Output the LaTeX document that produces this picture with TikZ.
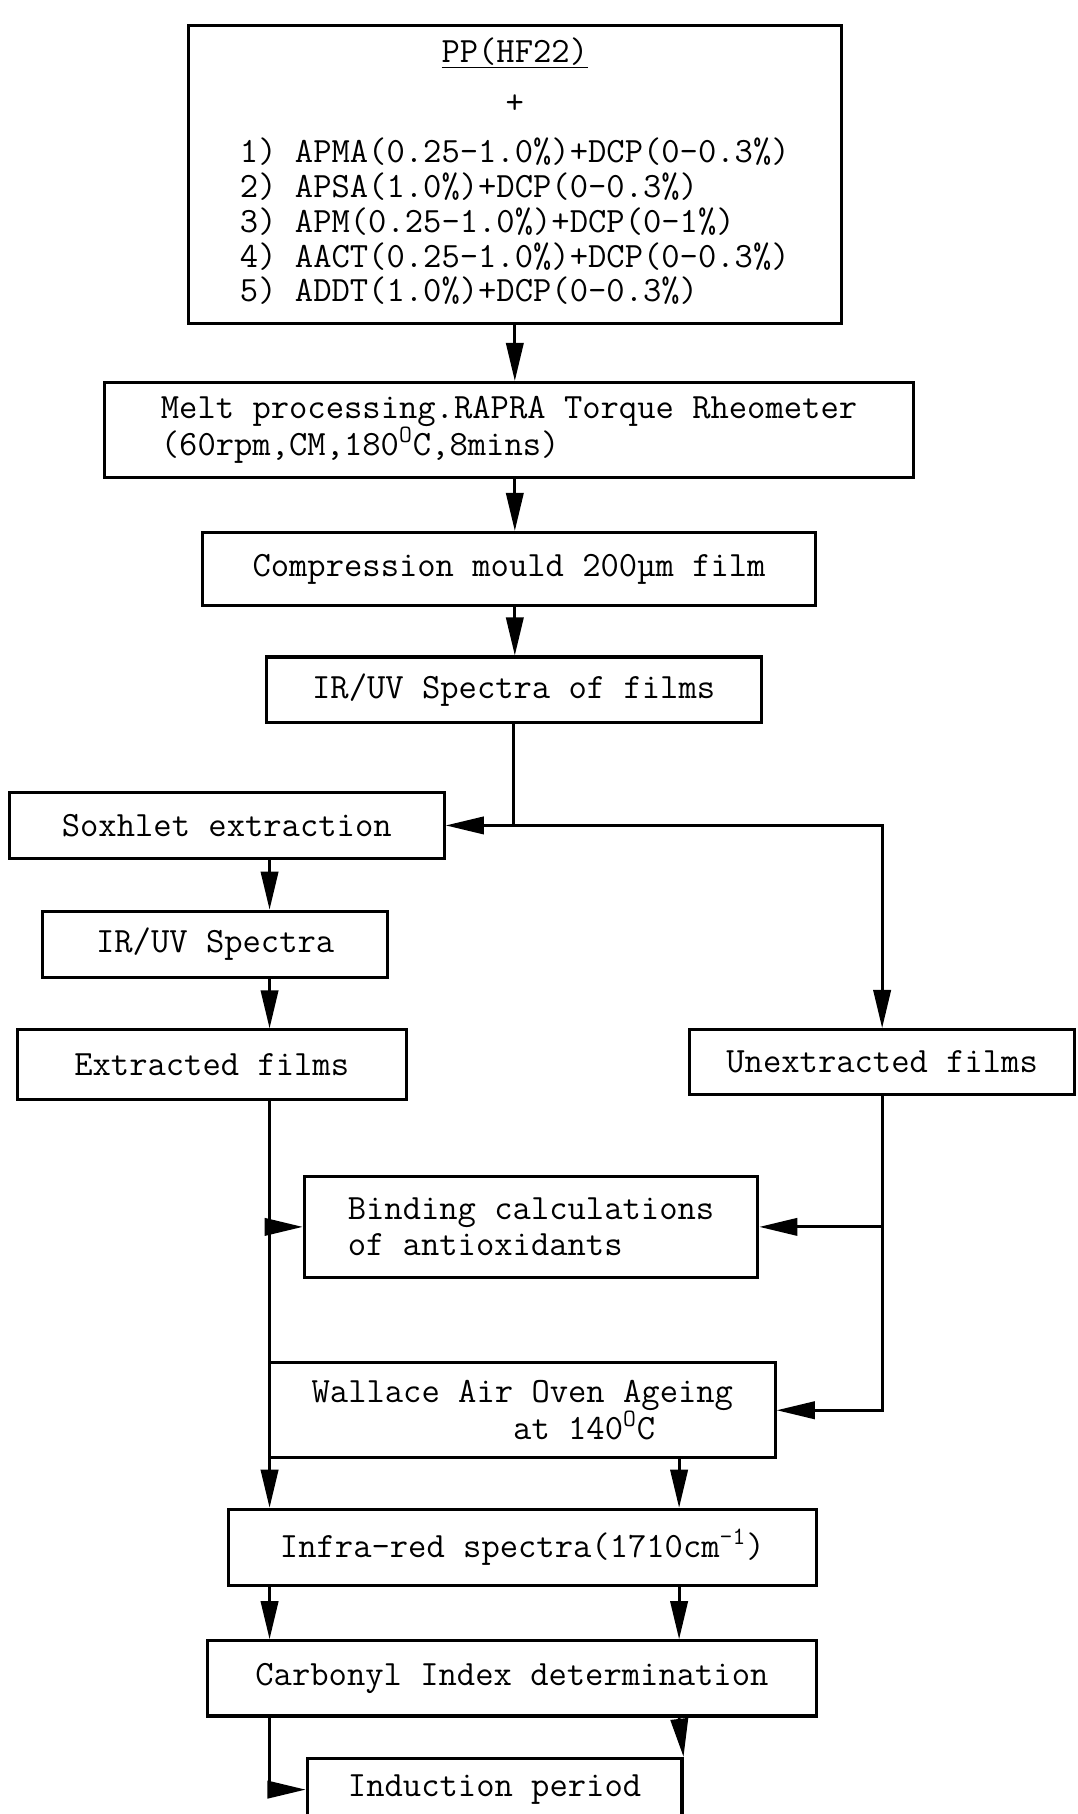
\documentclass[tikz,border=0pt]{standalone}
\usetikzlibrary{positioning,arrows.meta}

\begin{document}
\begin{tikzpicture}[
		box/.style={draw, line width=1.5pt, inner sep=0pt, align=left,
			font=\ttfamily\fontsize{17.5}{18}\selectfont},
		arr/.style={line width=1.4pt, -{Triangle[length=0.66cm,width=0.3cm]}},
	]
		\useasboundingbox (0,0) rectangle (18.62,-31.36);
		
		\coordinate (colA) at (4.66,0);
		\coordinate (colB) at (11.74,0);
		\coordinate (colC) at (15.25,0);
		
		\node [box, minimum width=11.28cm, minimum height=5.16cm] (pp) at (8.9,-3.02) {%
			\fontsize{17.5}{16.5}\selectfont
			\begin{tabular}{@{}l@{}}
				\multicolumn{1}{c}{\underline{PP(HF22)}}\\[9pt]
				\multicolumn{1}{c}{+}\\[7pt]
				1) APMA(0.25-1.0\%)+DCP(0-0.3\%)\\
				2) APSA(1.0\%)+DCP(0-0.3\%)\\
				3) APM(0.25-1.0\%)+DCP(0-1\%)\\
				4) AACT(0.25-1.0\%)+DCP(0-0.3\%)\\
				5) ADDT(1.0\%)+DCP(0-0.3\%)
			\end{tabular}};
		\node [box, minimum width=14cm, minimum height=1.64cm, below=0.96cm of pp, xshift=-0.1cm] (melt)
			{Melt processing.RAPRA Torque Rheometer\\(60rpm,CM,180\textsuperscript{O}C,8mins)};
		\node [box, minimum width=10.6cm, minimum height=1.26cm, below=0.9cm of melt] (mould)
			{Compression mould 200µm film};
		\node [box, minimum width=8.56cm, minimum height=1.14cm, below=0.84cm of mould, xshift=0.08cm] (irfilms)
			{IR/UV Spectra of films};
		
		\node [box, minimum width=7.52cm, minimum height=1.14cm] (sox) at (3.92,-14.27) {Soxhlet extraction};
		\node [box, minimum width=5.96cm, minimum height=1.14cm, below=0.86cm of sox, xshift=-0.2cm] (irspec)
			{IR/UV Spectra};
		\node [box, minimum width=6.72cm, minimum height=1.2cm, below=0.86cm of irspec, xshift=-0.06cm] (extr)
			{Extracted films};
		\node [box, minimum width=6.66cm, minimum height=1.12cm] (unext) at (15.25,-18.36) {Unextracted films};
		
		\node [box, minimum width=7.84cm, minimum height=1.74cm] (bind) at (9.18,-21.21)
			{Binding calculations\\of antioxidants};
		\node [box, minimum width=8.74cm, minimum height=1.64cm] (wall) at (9.03,-24.38)
			{Wallace Air Oven Ageing\\\phantom{Wallace Air}at 140\textsuperscript{O}C};
		\node [box, minimum width=10.16cm, minimum height=1.32cm, below=0.84cm of wall] (infra)
			{Infra-red spectra(1710cm\textsuperscript{-1})};
		\node [box, minimum width=10.52cm, minimum height=1.3cm, below=0.9cm of infra, xshift=-0.18cm] (carb)
			{Carbonyl Index determination};
		\node [box, minimum width=6.48cm, minimum height=1.08cm, below=0.68cm of carb, xshift=-0.3cm] (induct)
			{Induction period};
		
		\coordinate (split) at (irfilms.south |- sox.east);
		
		\draw [arr] (pp.south) -- (pp.south |- melt.north);
		\draw [arr] (melt.south -| pp.south) -- (mould.north -| pp.south);
		\draw [arr] (mould.south -| pp.south) -- (irfilms.north -| pp.south);
		\draw [line width=1.4pt] (irfilms.south) -- (split);
		\draw [arr] (split) -- (sox.east);
		\draw [arr] (split) -| (unext.north);
		
		\draw [arr] (sox.south -| colA) -- (irspec.north -| colA);
		\draw [arr] (irspec.south -| colA) -- (extr.north -| colA);
		\draw [arr] (extr.south -| colA) -- (infra.north -| colA);
		\draw [arr] (bind.west -| colA) -- (bind.west);
		
		\draw [arr] (unext.south) |- (wall.east);
		\draw [arr] (bind.east -| colC) -- (bind.east);
		
		\draw [arr] (wall.south -| colB) -- (infra.north -| colB);
		\draw [arr] (infra.south -| colA) -- (carb.north -| colA);
		\draw [arr] (infra.south -| colB) -- (carb.north -| colB);
		\draw [arr] (carb.south -| colB) -- (induct.north east);
		\draw [arr] (carb.south -| colA) |- (induct.west);
	\end{tikzpicture}
\end{document}
